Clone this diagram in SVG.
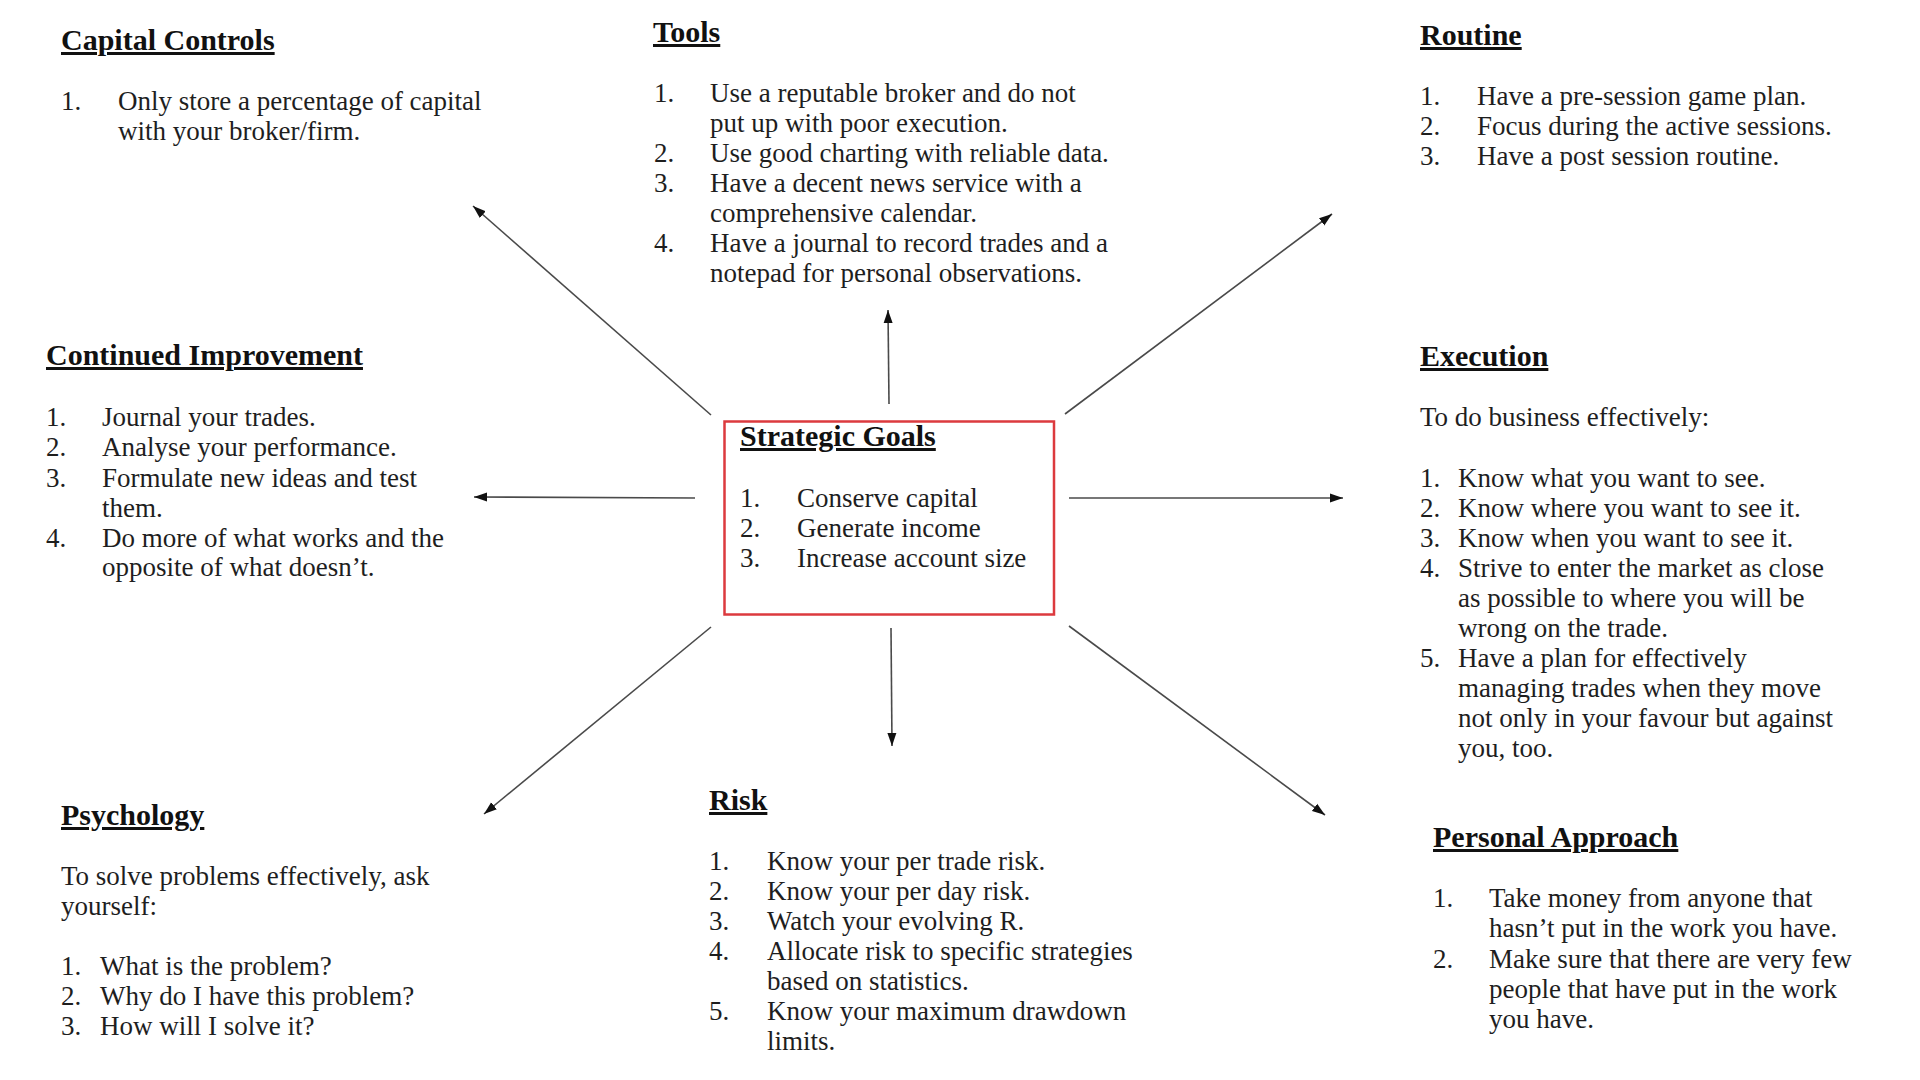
<svg xmlns="http://www.w3.org/2000/svg" width="1920" height="1080" viewBox="0 0 1920 1080">
<defs>
<style>
text{font-family:"Liberation Serif","Times New Roman",serif;fill:#1e1e1e}
.t{font-size:30px;font-weight:bold;text-decoration:underline;fill:#111}
.b{font-size:27px}
.c{stroke:#4a4a4a;stroke-width:1.6;fill:none;marker-end:url(#ah)}
.box{fill:#fff;stroke:#dc3a3e;stroke-width:2.5}
</style>
<marker id="ah" markerUnits="userSpaceOnUse" markerWidth="14" markerHeight="10" refX="13" refY="5" orient="auto">
<path d="M0,0.5 L13,5 L0,9.5 z" fill="#111"/>
</marker>
</defs>
<rect width="1920" height="1080" fill="#fff"/>

<g id="connectors">
<line class="c" x1="711" y1="415" x2="473" y2="206"/>
<line class="c" x1="889" y1="404" x2="888" y2="310"/>
<line class="c" x1="1065" y1="414" x2="1332" y2="214"/>
<line class="c" x1="695" y1="498" x2="474" y2="497"/>
<line class="c" x1="1069" y1="498" x2="1343" y2="498"/>
<line class="c" x1="711" y1="627" x2="484" y2="814"/>
<line class="c" x1="891" y1="628" x2="892" y2="746"/>
<line class="c" x1="1069" y1="626" x2="1325" y2="815"/>
</g>

<g id="strategic-goals">
<rect class="box" x="724.5" y="421.5" width="329.5" height="193"/>
<text class="t" x="740" y="446">Strategic Goals</text>
<text class="b" x="740" y="507">1.</text><text class="b" x="797" y="507">Conserve capital</text>
<text class="b" x="740" y="537">2.</text><text class="b" x="797" y="537">Generate income</text>
<text class="b" x="740" y="567">3.</text><text class="b" x="797" y="567">Increase account size</text>
</g>

<g id="capital-controls">
<text class="t" x="61" y="50">Capital Controls</text>
<text class="b" x="61" y="110">1.</text>
<text class="b" x="118" y="110">Only store a percentage of capital</text>
<text class="b" x="118" y="140">with your broker/firm.</text>
</g>

<g id="tools">
<text class="t" x="653" y="42">Tools</text>
<text class="b" x="654" y="102">1.</text><text class="b" x="710" y="102">Use a reputable broker and do not</text>
<text class="b" x="710" y="132">put up with poor execution.</text>
<text class="b" x="654" y="162">2.</text><text class="b" x="710" y="162">Use good charting with reliable data.</text>
<text class="b" x="654" y="192">3.</text><text class="b" x="710" y="192">Have a decent news service with a</text>
<text class="b" x="710" y="222">comprehensive calendar.</text>
<text class="b" x="654" y="252">4.</text><text class="b" x="710" y="252">Have a journal to record trades and a</text>
<text class="b" x="710" y="282">notepad for personal observations.</text>
</g>

<g id="routine">
<text class="t" x="1420" y="45">Routine</text>
<text class="b" x="1420" y="105">1.</text><text class="b" x="1477" y="105">Have a pre-session game plan.</text>
<text class="b" x="1420" y="135">2.</text><text class="b" x="1477" y="135">Focus during the active sessions.</text>
<text class="b" x="1420" y="165">3.</text><text class="b" x="1477" y="165">Have a post session routine.</text>
</g>

<g id="continued-improvement">
<text class="t" x="46" y="365">Continued Improvement</text>
<text class="b" x="46" y="426">1.</text><text class="b" x="102" y="426">Journal your trades.</text>
<text class="b" x="46" y="456">2.</text><text class="b" x="102" y="456">Analyse your performance.</text>
<text class="b" x="46" y="487">3.</text><text class="b" x="102" y="487">Formulate new ideas and test</text>
<text class="b" x="102" y="517">them.</text>
<text class="b" x="46" y="547">4.</text><text class="b" x="102" y="547">Do more of what works and the</text>
<text class="b" x="102" y="576">opposite of what doesn’t.</text>
</g>

<g id="execution">
<text class="t" x="1420" y="366">Execution</text>
<text class="b" x="1420" y="426">To do business effectively:</text>
<text class="b" x="1420" y="487">1.</text><text class="b" x="1458" y="487">Know what you want to see.</text>
<text class="b" x="1420" y="517">2.</text><text class="b" x="1458" y="517">Know where you want to see it.</text>
<text class="b" x="1420" y="547">3.</text><text class="b" x="1458" y="547">Know when you want to see it.</text>
<text class="b" x="1420" y="577">4.</text><text class="b" x="1458" y="577">Strive to enter the market as close</text>
<text class="b" x="1458" y="607">as possible to where you will be</text>
<text class="b" x="1458" y="637">wrong on the trade.</text>
<text class="b" x="1420" y="667">5.</text><text class="b" x="1458" y="667">Have a plan for effectively</text>
<text class="b" x="1458" y="697">managing trades when they move</text>
<text class="b" x="1458" y="727">not only in your favour but against</text>
<text class="b" x="1458" y="757">you, too.</text>
</g>

<g id="psychology">
<text class="t" x="61" y="825">Psychology</text>
<text class="b" x="61" y="885">To solve problems effectively, ask</text>
<text class="b" x="61" y="915">yourself:</text>
<text class="b" x="61" y="975">1.</text><text class="b" x="100" y="975">What is the problem?</text>
<text class="b" x="61" y="1005">2.</text><text class="b" x="100" y="1005">Why do I have this problem?</text>
<text class="b" x="61" y="1035">3.</text><text class="b" x="100" y="1035">How will I solve it?</text>
</g>

<g id="risk">
<text class="t" x="709" y="810">Risk</text>
<text class="b" x="709" y="870">1.</text><text class="b" x="767" y="870">Know your per trade risk.</text>
<text class="b" x="709" y="900">2.</text><text class="b" x="767" y="900">Know your per day risk.</text>
<text class="b" x="709" y="930">3.</text><text class="b" x="767" y="930">Watch your evolving R.</text>
<text class="b" x="709" y="960">4.</text><text class="b" x="767" y="960">Allocate risk to specific strategies</text>
<text class="b" x="767" y="990">based on statistics.</text>
<text class="b" x="709" y="1020">5.</text><text class="b" x="767" y="1020">Know your maximum drawdown</text>
<text class="b" x="767" y="1050">limits.</text>
</g>

<g id="personal-approach">
<text class="t" x="1433" y="847">Personal Approach</text>
<text class="b" x="1433" y="907">1.</text><text class="b" x="1489" y="907">Take money from anyone that</text>
<text class="b" x="1489" y="937">hasn’t put in the work you have.</text>
<text class="b" x="1433" y="968">2.</text><text class="b" x="1489" y="968">Make sure that there are very few</text>
<text class="b" x="1489" y="998">people that have put in the work</text>
<text class="b" x="1489" y="1028">you have.</text>
</g>
</svg>
